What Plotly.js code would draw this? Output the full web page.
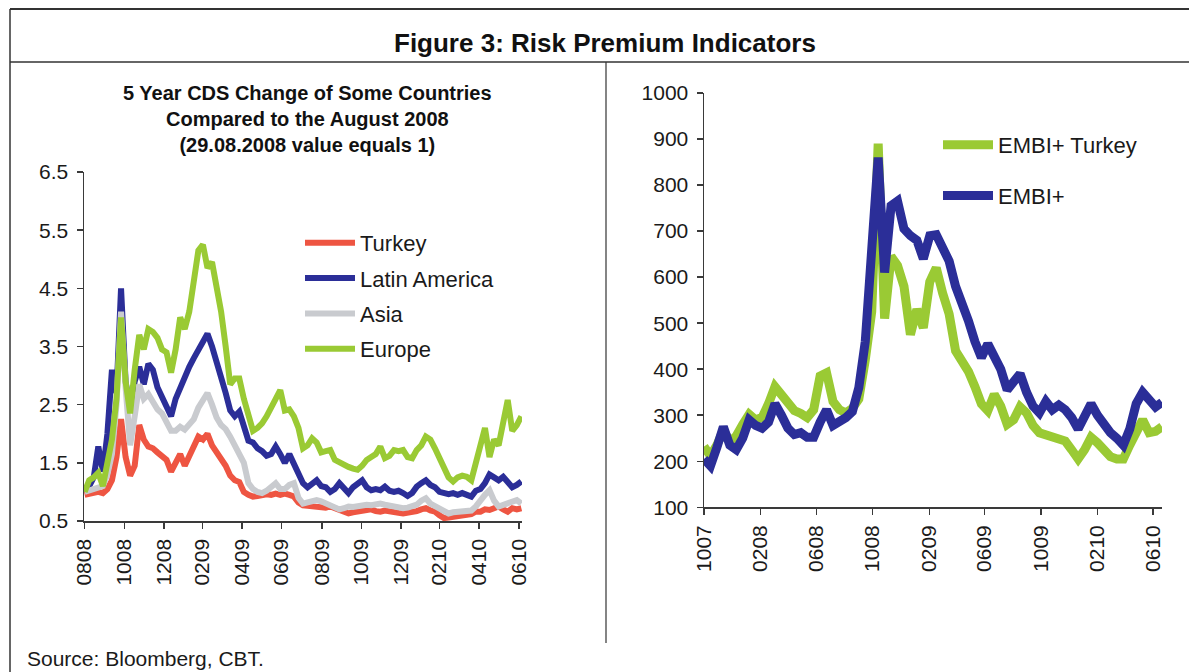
<!DOCTYPE html>
<html>
<head>
<meta charset="utf-8">
<script src="https://cdn.plot.ly/plotly-3.0.1.min.js"></script>
<style>
  html, body { margin: 0; padding: 0; background: #ffffff; }
  #chart { width: 1189px; height: 672px; }
</style>
</head>
<body>
<div id="chart"></div>
<script>
// ---------------- DATA ----------------
// Left panel: weekly observations starting 29.08.2008 (29.08.2008 value equals 1)
var cdsStart = '2008-08-29';
var cdsStepDays = 7;
var cdsTurkey = [0.95,0.97,0.98,1.0,0.98,1.05,1.2,1.6,2.25,1.6, 1.28,1.45,2.15,1.9,1.78,1.75,1.68,1.62,1.55,1.35, 1.52,1.65,1.45,1.6,1.8,1.95,1.9,2.0,1.8,1.68, 1.55,1.45,1.28,1.2,1.17,1.0,0.95,0.92,0.93,0.95, 0.96,0.95,0.97,0.95,0.97,0.95,0.92,0.82,0.77,0.76, 0.75,0.76,0.75,0.73,0.75,0.72,0.7,0.66,0.63,0.65, 0.66,0.68,0.69,0.7,0.67,0.66,0.68,0.66,0.66,0.64, 0.63,0.64,0.66,0.67,0.7,0.72,0.68,0.66,0.6,0.55, 0.56,0.57,0.58,0.6,0.6,0.62,0.66,0.66,0.7,0.69, 0.72,0.75,0.7,0.66,0.72,0.7,0.72];
var cdsLatinAmerica = [1.0,1.1,1.25,1.78,1.35,2.0,3.1,2.7,4.5,2.9, 2.4,2.9,3.15,2.85,3.2,3.1,2.8,2.65,2.45,2.3, 2.6,2.8,2.95,3.15,3.3,3.45,3.6,3.72,3.5,3.25, 3.0,2.7,2.4,2.3,2.38,2.1,1.88,1.85,1.75,1.7, 1.62,1.65,1.78,1.65,1.5,1.65,1.5,1.3,1.15,1.08, 1.15,1.2,1.1,1.08,1.0,1.05,1.15,1.05,0.98,1.08, 1.15,1.2,1.08,1.03,1.05,1.03,1.09,1.02,1.0,1.02, 0.98,0.93,0.98,1.09,1.15,1.2,1.12,1.08,1.0,0.98, 0.96,0.98,0.95,0.98,0.95,0.92,1.02,1.05,1.15,1.3, 1.25,1.2,1.26,1.15,1.08,1.12,1.18];
var cdsAsia = [1.0,1.02,1.05,1.08,1.1,1.3,1.65,2.5,4.1,2.8, 1.8,2.3,2.85,2.6,2.68,2.55,2.42,2.35,2.22,2.05, 2.05,2.12,2.07,2.15,2.25,2.45,2.6,2.7,2.5,2.28, 2.15,2.08,1.95,1.8,1.7,1.5,1.15,1.05,1.0,0.98, 1.02,1.08,1.15,1.05,1.05,1.12,1.15,0.9,0.8,0.82, 0.85,0.86,0.84,0.8,0.78,0.74,0.7,0.72,0.75,0.74, 0.76,0.77,0.78,0.77,0.79,0.8,0.78,0.76,0.75,0.73, 0.72,0.73,0.75,0.78,0.85,0.89,0.8,0.75,0.72,0.66, 0.63,0.65,0.66,0.66,0.66,0.68,0.75,0.86,0.95,1.03, 0.85,0.75,0.78,0.8,0.84,0.86,0.8];
var cdsEurope = [1.0,1.2,1.25,1.33,1.1,1.45,1.9,2.6,4.0,2.9, 2.35,3.1,3.7,3.45,3.8,3.75,3.65,3.45,3.4,3.05, 3.45,4.0,3.8,4.1,4.6,5.15,5.25,4.85,4.95,4.55, 4.1,3.5,2.85,2.95,2.95,2.6,2.3,2.05,2.1,2.18, 2.3,2.48,2.6,2.75,2.4,2.42,2.3,2.1,1.75,1.8, 1.92,1.85,1.68,1.7,1.72,1.55,1.5,1.48,1.43,1.4, 1.38,1.45,1.55,1.6,1.65,1.78,1.58,1.62,1.72,1.7, 1.72,1.6,1.58,1.72,1.8,1.95,1.9,1.75,1.6,1.43, 1.25,1.18,1.25,1.28,1.26,1.2,1.5,1.8,2.1,1.6, 1.9,1.8,2.2,2.58,2.05,2.15,2.3];
var cdsSeriesNames = ['Turkey', 'Latin America', 'Asia', 'Europe'];
var cdsYTicks = [0.5, 1.5, 2.5, 3.5, 4.5, 5.5, 6.5];

// Right panel: bi-weekly observations starting 01.10.2007 (basis points)
var embiStart = '2007-10-01';
var embiStepDays = 14;
var embiTurkey = [232,212,235,268,242,255,280,302,290,295, 325,362,345,330,310,304,295,312,385,392, 330,312,305,315,335,420,525,890,510,645, 625,580,475,530,490,590,620,565,520,440, 420,395,362,325,310,345,320,280,290,318, 305,278,262,258,255,246,244,225,205,225, 252,240,222,210,205,205,235,262,290,262, 265,275];
var embiPlus = [205,190,230,275,235,225,250,290,278,272, 285,325,300,272,258,262,252,252,285,312, 278,285,295,308,360,460,665,860,610,755, 765,705,690,680,640,690,692,665,635,580, 545,505,460,425,455,432,400,355,375,390, 350,320,305,330,312,322,312,295,270,300, 325,300,280,262,250,235,270,325,350,335, 318,328];
var embiSeriesNames = ['EMBI+ Turkey', 'EMBI+'];

// Titles / texts
var figureTitle = 'Figure 3: Risk Premium Indicators';
var leftTitle = ['5 Year CDS Change of Some Countries', 'Compared to the August 2008', '(29.08.2008 value equals 1)'];
var sourceText = 'Source: Bloomberg, CBT.';

// ---------------- HELPERS ----------------
function dateSeries(start, stepDays, n) {
  var t0 = Date.parse(start + 'T00:00:00Z');
  var out = [];
  for (var i = 0; i < n; i++) {
    out.push(new Date(t0 + i * stepDays * 86400000).toISOString().slice(0, 10));
  }
  return out;
}
var cdsDates = dateSeries(cdsStart, cdsStepDays, cdsTurkey.length);
var embiDates = dateSeries(embiStart, embiStepDays, embiPlus.length);

var FONT = 'Liberation Sans, Arial, Helvetica, sans-serif';
var AX = '#3a3a3a';

var traces = [
  {x: cdsDates, y: cdsTurkey, name: cdsSeriesNames[0], type: 'scatter', mode: 'lines', legendgroup: 'c1',
   line: {color: '#EE5542', width: 6}, xaxis: 'x', yaxis: 'y', legend: 'legend'},
  {x: cdsDates, y: cdsLatinAmerica, name: cdsSeriesNames[1], type: 'scatter', mode: 'lines', legendgroup: 'c2',
   line: {color: '#2B2E98', width: 6}, xaxis: 'x', yaxis: 'y', legend: 'legend'},
  {x: cdsDates, y: cdsAsia, name: cdsSeriesNames[2], type: 'scatter', mode: 'lines', legendgroup: 'c3',
   line: {color: '#C9CBCF', width: 6}, xaxis: 'x', yaxis: 'y', legend: 'legend'},
  {x: cdsDates, y: cdsEurope, name: cdsSeriesNames[3], type: 'scatter', mode: 'lines', legendgroup: 'c4',
   line: {color: '#9ACA34', width: 6}, xaxis: 'x', yaxis: 'y', legend: 'legend'},
  {x: embiDates, y: embiTurkey, name: embiSeriesNames[0], type: 'scatter', mode: 'lines', legendgroup: 'e1',
   line: {color: '#9ACA34', width: 9}, xaxis: 'x2', yaxis: 'y2', legend: 'legend2'},
  {x: embiDates, y: embiPlus, name: embiSeriesNames[1], type: 'scatter', mode: 'lines', legendgroup: 'e2',
   line: {color: '#2B2E98', width: 9}, xaxis: 'x2', yaxis: 'y2', legend: 'legend2'}
];

function W(px) { return px / 1189; }
function H(px) { return 1 - px / 672; }

var axisCommon = {
  showline: true, linecolor: AX, linewidth: 1.5, mirror: false,
  ticks: 'outside', ticklen: 6, tickwidth: 1.5, tickcolor: AX,
  showgrid: false, zeroline: false,
  tickfont: {family: FONT, size: 21, color: '#1a1a1a'}
};

var layout = {
  width: 1189, height: 672, autosize: false,
  margin: {l: 0, r: 0, t: 0, b: 0, pad: 0},
  paper_bgcolor: '#ffffff', plot_bgcolor: '#ffffff',
  font: {family: FONT, color: '#1a1a1a'},
  showlegend: true,
  xaxis: Object.assign({}, axisCommon, {
    type: 'date', domain: [W(84), W(522)], anchor: 'y',
    range: ['2008-08-28', '2010-07-03'], tick0: '2008-08-28', dtick: 'M2',
    tickformat: '%m%y', tickangle: -90, ticklabelstandoff: 2
  }),
  yaxis: Object.assign({}, axisCommon, {
    domain: [H(521), H(172)], anchor: 'x',
    range: [0.5, 6.5], tickmode: 'array', tickvals: cdsYTicks, tickformat: '.1f',
    ticklabelstandoff: 4
  }),
  xaxis2: Object.assign({}, axisCommon, {
    type: 'date', domain: [W(704), W(1162)], anchor: 'y2',
    range: ['2007-10-01', '2010-06-21'], tick0: '2007-10-01', dtick: 'M4',
    tickformat: '%m%y', tickangle: -90, ticklabelstandoff: 2
  }),
  yaxis2: Object.assign({}, axisCommon, {
    domain: [H(507.3), H(93)], anchor: 'x2',
    range: [100, 1000], dtick: 100, tick0: 100,
    ticklabelstandoff: 4
  }),
  legend: {
    x: W(300), xanchor: 'left', y: H(222), yanchor: 'top',
    bgcolor: 'rgba(0,0,0,0)', borderwidth: 0,
    font: {family: FONT, size: 22, color: '#1a1a1a'},
    itemwidth: 50, tracegroupgap: 3.7, traceorder: 'grouped'
  },
  legend2: {
    x: W(938), xanchor: 'left', y: H(124), yanchor: 'top',
    bgcolor: 'rgba(0,0,0,0)', borderwidth: 0,
    font: {family: FONT, size: 22, color: '#1a1a1a'},
    itemwidth: 50, tracegroupgap: 19, traceorder: 'grouped'
  },
  annotations: [
    {text: '<b>' + figureTitle + '</b>', xref: 'paper', yref: 'paper', x: W(605), y: H(43),
     xanchor: 'center', yanchor: 'middle', showarrow: false,
     font: {family: FONT, size: 26, color: '#111111'}},
    {text: '<b>' + leftTitle.join('<br>') + '</b>', xref: 'paper', yref: 'paper', x: W(307), y: H(119),
     xanchor: 'center', yanchor: 'middle', showarrow: false, align: 'center',
     font: {family: FONT, size: 20, color: '#111111'}},
    {text: sourceText, xref: 'paper', yref: 'paper', x: W(25), y: H(658),
     xanchor: 'left', yanchor: 'middle', showarrow: false,
     font: {family: FONT, size: 21, color: '#1a1a1a'}}
  ],
  shapes: [
    {type: 'line', xref: 'paper', yref: 'paper', x0: W(10), x1: 1, y0: H(9), y1: H(9), line: {color: '#333333', width: 2}},
    {type: 'line', xref: 'paper', yref: 'paper', x0: W(10), x1: 1, y0: H(62), y1: H(62), line: {color: '#333333', width: 1.5}},
    {type: 'line', xref: 'paper', yref: 'paper', x0: W(10), x1: W(10), y0: 0, y1: H(9), line: {color: '#333333', width: 1.5}},
    {type: 'line', xref: 'paper', yref: 'paper', x0: W(606), x1: W(606), y0: H(643), y1: H(62), line: {color: '#333333', width: 1.2}}
  ]
};

Plotly.newPlot('chart', traces, layout, {displayModeBar: false, staticPlot: true});
</script>
</body>
</html>
